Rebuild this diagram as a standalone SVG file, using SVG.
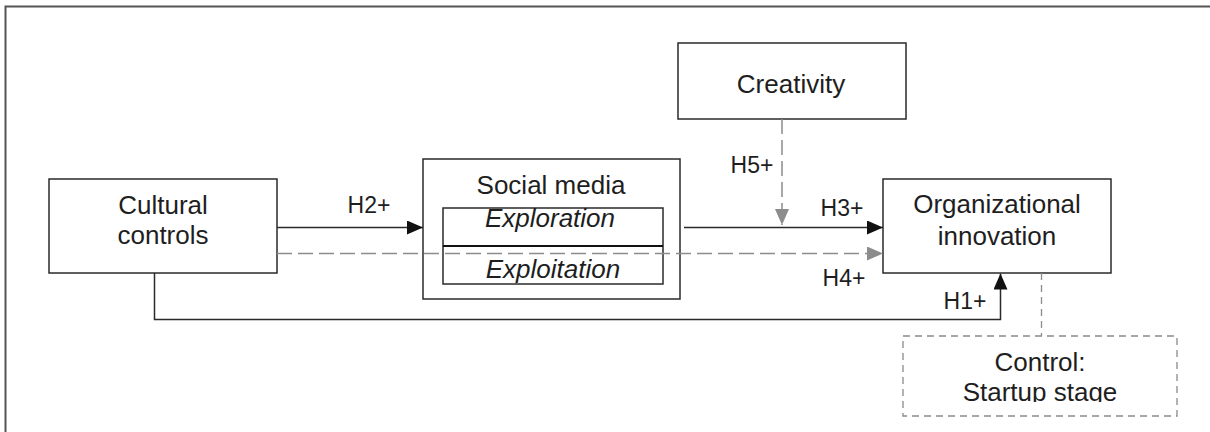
<svg xmlns="http://www.w3.org/2000/svg" width="1210" height="432" viewBox="0 0 1210 432">
<style>
  .box { fill: #fff; stroke: #2a2a2a; stroke-width: 1.5; }
  .dbox { fill: #fff; stroke: #8a8a8a; stroke-width: 1.3; stroke-dasharray: 7 5; }
  .t { font-family: "Liberation Sans", Arial, sans-serif; font-size: 26px; fill: #1e1e1e; text-anchor: middle; }
  .ti { font-style: italic; }
  .lab { font-family: "Liberation Sans", Arial, sans-serif; font-size: 23px; fill: #1e1e1e; text-anchor: middle; }
  .solid { fill: none; stroke: #2a2a2a; stroke-width: 1.5; }
  .dash { fill: none; stroke: #8c8c8c; stroke-width: 1.5; stroke-dasharray: 15 6; }
  .thin { fill: none; stroke: #8c8c8c; stroke-width: 1.3; stroke-dasharray: 7 5; }
</style>
<defs>
  <marker id="ab" markerUnits="userSpaceOnUse" markerWidth="16" markerHeight="14" refX="16" refY="7" orient="auto">
    <path d="M0,0 L16,7 L0,14 Z" fill="#111"/>
  </marker>
  <marker id="ag" markerUnits="userSpaceOnUse" markerWidth="16" markerHeight="14" refX="16" refY="7" orient="auto">
    <path d="M0,0 L16,7 L0,14 Z" fill="#8c8c8c"/>
  </marker>
  <clipPath id="ctrlclip"><rect x="903" y="336" width="274" height="66"/></clipPath>
</defs>
<rect width="1210" height="432" fill="#fff"/>
<path d="M5.5,432 L5.5,6.5 L1210,6.5" fill="none" stroke="#555" stroke-width="2"/>

<g id="cultural-controls">
  <rect class="box" x="49" y="179" width="228" height="94"/>
  <text class="t" x="163" y="214">Cultural</text>
  <text class="t" x="163" y="244">controls</text>
</g>

<g id="social-media">
  <rect class="box" x="423" y="159" width="257" height="140"/>
  <text class="t" x="551" y="194">Social media</text>
  <rect class="box" x="443" y="208" width="220" height="76"/>
  <line x1="443" y1="246" x2="663" y2="246" stroke="#111" stroke-width="2.2"/>
  <text class="t ti" x="550" y="227">Exploration</text>
  <text class="t ti" x="553" y="278">Exploitation</text>
</g>

<g id="creativity">
  <rect class="box" x="678" y="43" width="228" height="76"/>
  <text class="t" x="791" y="93">Creativity</text>
</g>

<g id="organizational-innovation">
  <rect class="box" x="883" y="179" width="228" height="94"/>
  <text class="t" x="997" y="213">Organizational</text>
  <text class="t" x="997" y="245">innovation</text>
</g>

<g id="control-startup-stage">
  <rect class="dbox" x="903" y="336" width="274" height="80"/>
  <g clip-path="url(#ctrlclip)">
    <text class="t" x="1040" y="371">Control:</text>
    <text class="t" x="1040" y="401">Startup stage</text>
  </g>
</g>

<g id="connectors">
  <line class="solid" x1="277" y1="227.5" x2="423" y2="227.5" marker-end="url(#ab)"/>
  <line class="dash" x1="277" y1="253.5" x2="883" y2="253.5" marker-end="url(#ag)"/>
  <line class="solid" x1="684" y1="227.5" x2="883" y2="227.5" marker-end="url(#ab)"/>
  <line class="dash" x1="782" y1="119" x2="782" y2="225" marker-end="url(#ag)"/>
  <path class="solid" d="M154.5,273 L154.5,319.5 L1000.5,319.5 L1000.5,273.5" marker-end="url(#ab)"/>
  <line class="thin" x1="1041.5" y1="273" x2="1041.5" y2="336"/>
  <text class="lab" x="369" y="213">H2+</text>
  <text class="lab" x="842" y="216">H3+</text>
  <text class="lab" x="844" y="286">H4+</text>
  <text class="lab" x="752" y="173">H5+</text>
  <text class="lab" x="965" y="309">H1+</text>
</g>
</svg>
